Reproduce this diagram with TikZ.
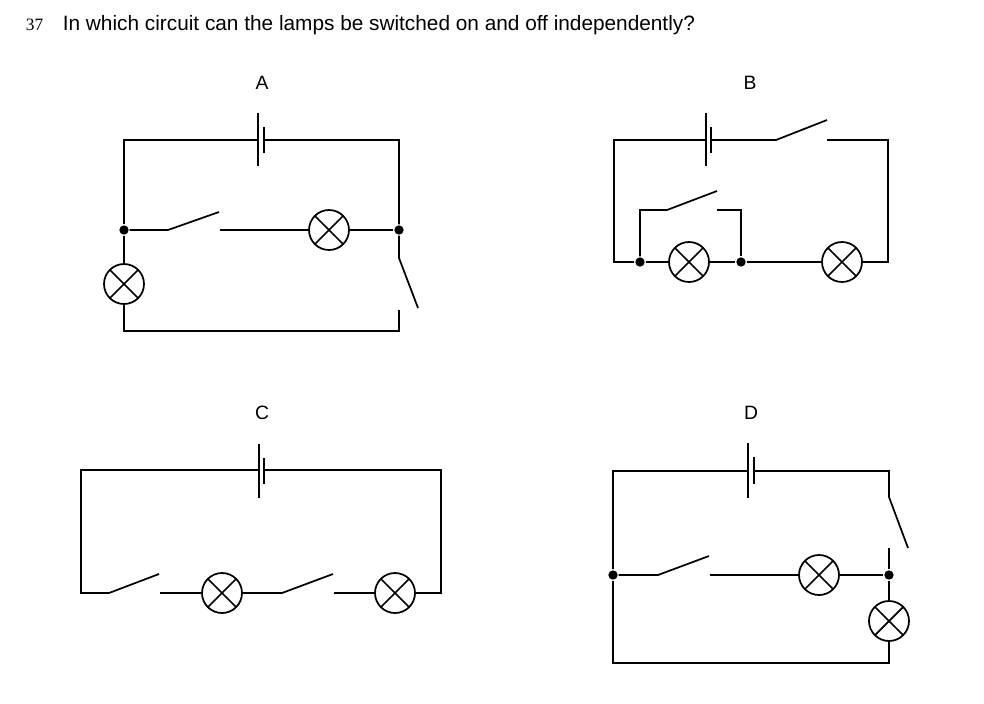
\documentclass[tikz,border=0pt]{standalone}
\usepackage{fontspec}
\setmainfont{Liberation Sans}
\newfontfamily\numfont{Liberation Serif}
\begin{document}
\begin{tikzpicture}[x=0.75pt,y=-0.75pt,line width=1.3pt,line cap=butt,
  lamp/.style={circle,draw,minimum size=30pt,inner sep=0pt,
    path picture={\draw (path picture bounding box.center) ++(45:15pt) -- ++(225:30pt);
                  \draw (path picture bounding box.center) ++(135:15pt) -- ++(-45:30pt);}},
  dot/.style={circle,fill,inner sep=0pt,minimum size=7pt},
  lbl/.style={font=\fontsize{14.5}{17}\selectfont,inner sep=0pt}]
\useasboundingbox (0,0) rectangle (984,703);
\node[anchor=west,font=\numfont\fontsize{13}{15}\selectfont,inner sep=0pt] (num) at (25,25) {37};
\node[anchor=west,font=\fontsize{15.6}{18}\selectfont,inner sep=0pt] (q) at (62,25) {In which circuit can the lamps be switched on and off independently?};
\node[lbl] (la) at (262,83) {A};
\node[lbl] (lb) at (750,83) {B};
\node[lbl] (lc) at (262,413) {C};
\node[lbl] (ld) at (751,413) {D};

% ---------- A
\coordinate (a1) at (124,140); \coordinate (a2) at (399,140);
\coordinate (abl) at (258,140); \coordinate (abs) at (264,140);
\draw (258,113) -- (258,166); \draw (264,127) -- (264,153);
\node[dot] (aj1) at (124,230) {}; \node[dot] (aj2) at (399,230) {};
\node[lamp] (aL1) at (329,230) {}; \node[lamp] (aL2) at (124,284) {};
\coordinate (as1) at (168,230); \coordinate (as1b) at (219,212); \coordinate (as1c) at (220,230);
\coordinate (as2) at (399,258); \coordinate (as2b) at (418,308); \coordinate (as2c) at (399,310);
\coordinate (a3) at (399,331); \coordinate (a4) at (124,331);
\draw (abl) -- (a1) -- (aj1) -- (aL2) -- (a4) -- (a3) -- (as2c);
\draw (abs) -- (a2) -- (aj2) -- (as2) -- (as2b);
\draw (aj1) -- (as1) -- (as1b);
\draw (as1c) -- (aL1) -- (aj2);

% ---------- B
\coordinate (b1) at (614,140); \coordinate (b2) at (888,140);
\coordinate (bbl) at (706,140); \coordinate (bbs) at (711,140);
\draw (706,113) -- (706,166); \draw (711,127) -- (711,153);
\coordinate (bs1) at (776,140); \coordinate (bs1b) at (827,120); \coordinate (bs1c) at (827,140);
\node[dot] (bj1) at (640,262) {}; \node[dot] (bj2) at (741,262) {};
\node[lamp] (bL1) at (689,262) {}; \node[lamp] (bL2) at (842,262) {};
\coordinate (b3) at (614,262); \coordinate (b4) at (888,262);
\coordinate (bi1) at (640,210); \coordinate (bi2) at (667,210); \coordinate (bi3) at (717,191);
\coordinate (bi4) at (717,210); \coordinate (bi5) at (741,210);
\draw (bbl) -- (b1) -- (b3) -- (bj1) -- (bL1) -- (bj2) -- (bL2) -- (b4) -- (b2) -- (bs1c);
\draw (bbs) -- (bs1) -- (bs1b);
\draw (bj1) -- (bi1) -- (bi2) -- (bi3);
\draw (bi4) -- (bi5) -- (bj2);

% ---------- C
\coordinate (c1) at (81,470); \coordinate (c2) at (441,470);
\coordinate (cbl) at (259,470); \coordinate (cbs) at (264,470);
\draw (259,444) -- (259,498); \draw (264,458) -- (264,484);
\coordinate (c3) at (81,593); \coordinate (c4) at (441,593);
\coordinate (cs1) at (109,593); \coordinate (cs1b) at (159,574); \coordinate (cs1c) at (160,593);
\coordinate (cs2) at (282,593); \coordinate (cs2b) at (333,574); \coordinate (cs2c) at (334,593);
\node[lamp] (cL1) at (222,593) {}; \node[lamp] (cL2) at (395,593) {};
\draw (cbl) -- (c1) -- (c3) -- (cs1) -- (cs1b);
\draw (cs1c) -- (cL1) -- (cs2) -- (cs2b);
\draw (cs2c) -- (cL2) -- (c4) -- (c2) -- (cbs);

% ---------- D
\coordinate (d1) at (613,471); \coordinate (d2) at (889,471);
\coordinate (dbl) at (748,471); \coordinate (dbs) at (754,471);
\draw (748,443) -- (748,498); \draw (754,457) -- (754,484);
\coordinate (ds1) at (889,497); \coordinate (ds1b) at (908,548); \coordinate (ds1c) at (889,548);
\node[dot] (dj1) at (613,575) {}; \node[dot] (dj2) at (889,575) {};
\coordinate (ds2) at (658,575); \coordinate (ds2b) at (709,556); \coordinate (ds2c) at (710,575);
\node[lamp] (dL1) at (819,575) {}; \node[lamp] (dL2) at (889,621) {};
\coordinate (d3) at (613,663); \coordinate (d4) at (889,663);
\draw (dbl) -- (d1) -- (dj1) -- (d3) -- (d4) -- (dL2) -- (dj2) -- (ds1c);
\draw (dbs) -- (d2) -- (ds1) -- (ds1b);
\draw (dj1) -- (ds2) -- (ds2b);
\draw (ds2c) -- (dL1) -- (dj2);
\end{tikzpicture}
\end{document}
